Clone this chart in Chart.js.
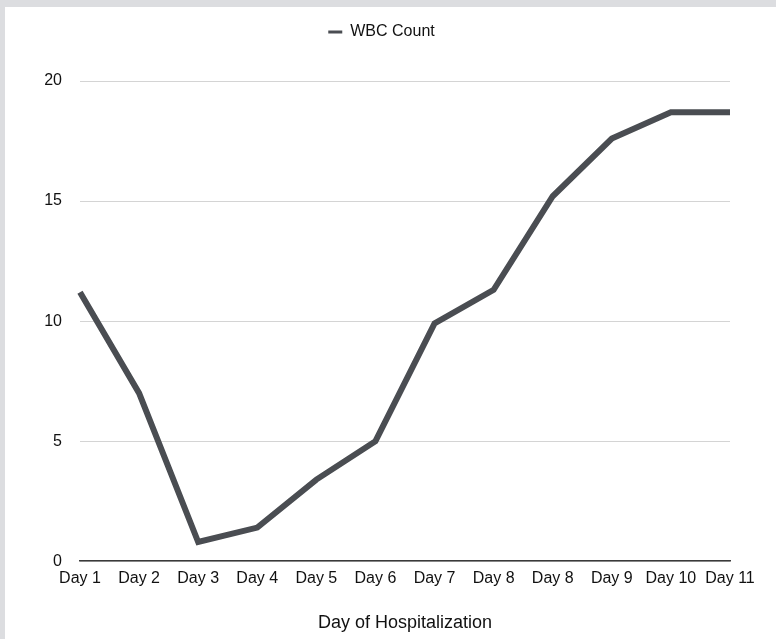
<!DOCTYPE html>
<html>
<head>
<meta charset="utf-8">
<title>WBC Count by Day of Hospitalization</title>
<script src="https://cdn.jsdelivr.net/npm/chart.js@4/dist/chart.umd.min.js"></script>
<style>
  html, body { margin: 0; padding: 0; background: #dcdde0; width: 776px; height: 639px; overflow: hidden; }
  #frame { position: absolute; left: 5px; top: 7px; width: 771px; height: 632px; background: #ffffff; }
  #chart { display: block; }
</style>
</head>
<body>
<div id="frame"><canvas id="chart" width="771" height="632"></canvas></div>
<script>
// Day labels along the x axis (the source sheet repeats "Day 8")
const dayLabels = ['Day 1', 'Day 2', 'Day 3', 'Day 4', 'Day 5', 'Day 6', 'Day 7', 'Day 8', 'Day 8', 'Day 9', 'Day 10', 'Day 11'];
// White blood cell count for each day
const wbcCount = [11.2, 7.0, 0.8, 1.4, 3.4, 5.0, 9.9, 11.3, 15.2, 17.6, 18.7, 18.7];
// Value-axis ticks
const yTicks = [0, 5, 10, 15, 20];

const lineColor = '#4a4d52';
const textColor = '#111111';
const fontFamily = '"Liberation Sans", Arial, Helvetica, sans-serif';

// Leaves extra white space below the legend and lets it span the
// full canvas width so the entry sits centred on the page
const legendGap = {
  id: 'legendGap',
  beforeUpdate(chart) {
    const legend = chart.legend;
    if (legend && !legend._gapPatched) {
      const fit = legend.fit;
      legend.fit = function () { fit.call(this); this.height += 31; };
      legend._gapPatched = true;
    }
  },
  afterLayout(chart) {
    if (chart.legend) chart.legend.right = chart.width - 18;
  }
};

new Chart(document.getElementById('chart'), {
  type: 'line',
  data: {
    labels: dayLabels,
    datasets: [{
      label: 'WBC Count',
      data: wbcCount,
      borderColor: lineColor,
      backgroundColor: lineColor,
      borderWidth: 6,
      tension: 0,
      pointRadius: 0,
      pointHoverRadius: 0,
      borderJoinStyle: 'miter',
      borderCapStyle: 'butt',
      fill: false
    }]
  },
  plugins: [legendGap],
  options: {
    responsive: false,
    animation: false,
    layout: { padding: { left: 0, right: 46, top: 0, bottom: 5 } },
    plugins: {
      tooltip: { enabled: false },
      legend: {
        display: true,
        position: 'top',
        labels: {
          color: textColor,
          font: { family: fontFamily, size: 16 },
          boxWidth: 14,
          boxHeight: 3,
          padding: 17,
          generateLabels(chart) {
            const items = Chart.defaults.plugins.legend.labels.generateLabels(chart);
            items.forEach(it => { it.lineWidth = 0; it.fillStyle = lineColor; it.strokeStyle = lineColor; });
            return items;
          }
        }
      }
    },
    scales: {
      x: {
        offset: false,
        grid: { display: false, drawTicks: false },
        border: { display: true, color: '#3a3a3a', width: 1.5 },
        ticks: {
          color: textColor,
          font: { family: fontFamily, size: 16 },
          maxRotation: 0,
          autoSkip: false,
          padding: 8
        },
        title: {
          display: true,
          text: 'Day of Hospitalization',
          color: textColor,
          font: { family: fontFamily, size: 18 },
          padding: { top: 16, bottom: 0 }
        }
      },
      y: {
        min: 0,
        max: 20,
        afterBuildTicks(scale) { scale.ticks = yTicks.map(v => ({ value: v })); },
        afterFit(scale) { scale.width = 75; },
        grid: { color: '#d4d4d4', lineWidth: 1, drawTicks: false },
        border: { display: false },
        ticks: {
          color: textColor,
          font: { family: fontFamily, size: 16 },
          padding: 18
        }
      }
    }
  }
});
</script>
</body>
</html>
